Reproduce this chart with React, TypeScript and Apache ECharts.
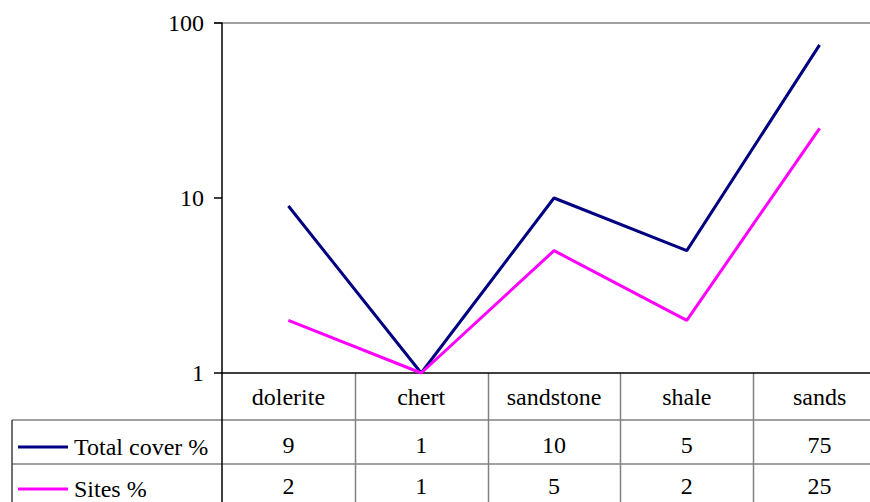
import React, { useEffect, useRef } from "react";
import * as echarts from "echarts";

const categories = ["dolerite", "chert", "sandstone", "shale", "sands"];
const totalCover = [9, 1, 10, 5, 75];
const sites = [2, 1, 5, 2, 25];
const seriesNames = ["Total cover %", "Sites %"];
const yTicks = [1, 10, 100];

const FONT = "Liberation Serif";
const W = 886;
const H = 502;
const GL = 222;
const GR = 0;
const GT = 23;
const GB = 129;

export default function App() {
  const ref = useRef<HTMLDivElement>(null);
  useEffect(() => {
    if (!ref.current) return;
    const chart = echarts.init(ref.current, undefined, { renderer: "svg" });
    const gridW = W - GL - GR;
    const axisY = H - GB;
    const catW = gridW / categories.length;
    const grey = "#808080";
    const graphics: any[] = [];
    graphics.push({ type: "line", shape: { x1: GL - 8, y1: GT, x2: W, y2: GT }, style: { stroke: grey, lineWidth: 1.5 } });
    graphics.push({ type: "line", shape: { x1: 12, y1: 420, x2: W, y2: 420 }, style: { stroke: grey, lineWidth: 1.5 } });
    graphics.push({ type: "line", shape: { x1: 12, y1: 464, x2: W, y2: 464 }, style: { stroke: grey, lineWidth: 1.5 } });
    graphics.push({ type: "line", shape: { x1: 12, y1: 420, x2: 12, y2: H }, style: { stroke: "#404040", lineWidth: 1.5 } });
    graphics.push({ type: "line", shape: { x1: GL, y1: axisY, x2: GL, y2: H }, style: { stroke: "#000", lineWidth: 1.5 } });
    for (let i = 1; i < categories.length; i++) {
      const x = Math.round(GL + catW * i) + 0.5;
      graphics.push({ type: "line", shape: { x1: x, y1: axisY, x2: x, y2: H }, style: { stroke: grey, lineWidth: 1.5 } });
    }
    const colors = ["#000080", "#FF00FF"];
    const rowY = [447, 489];
    seriesNames.forEach((n, i) => {
      graphics.push({ type: "line", shape: { x1: 18, y1: rowY[i], x2: 68, y2: rowY[i] }, style: { stroke: colors[i], lineWidth: 3 } });
      graphics.push({ type: "text", x: 74, y: rowY[i], style: { text: n, fontFamily: FONT, fontSize: 24, fill: "#000", verticalAlign: "middle", align: "left" } });
    });

    const valueAxis = (data: number[], offset: number) => ({
      type: "category",
      data: data.map(String),
      position: "bottom",
      offset,
      axisLine: { show: false },
      axisTick: { show: false },
      axisLabel: { fontFamily: FONT, fontSize: 24, color: "#000", margin: 25, verticalAlign: "middle", interval: 0 },
    });

    chart.setOption({
      animation: false,
      textStyle: { fontFamily: FONT },
      grid: { left: GL, right: GR, top: GT, bottom: GB, containLabel: false },
      xAxis: [
        {
          type: "category",
          data: categories,
          boundaryGap: true,
          axisLine: { show: true, lineStyle: { color: "#000", width: 1.5 } },
          axisTick: { show: false },
          axisLabel: { fontFamily: FONT, fontSize: 24, color: "#000", margin: 24, verticalAlign: "middle", interval: 0 },
        },
        valueAxis(totalCover, 47),
        valueAxis(sites, 88),
      ],
      yAxis: {
        type: "log",
        logBase: 10,
        min: yTicks[0],
        max: yTicks[yTicks.length - 1],
        axisLine: { show: true, lineStyle: { color: "#000", width: 1.5 } },
        axisTick: { show: true, length: 8, lineStyle: { color: "#000", width: 1.5 } },
        minorTick: { show: false },
        splitLine: { show: false },
        axisLabel: { fontFamily: FONT, fontSize: 24, color: "#000", margin: 18 },
      },
      series: [
        { name: seriesNames[0], type: "line", data: totalCover, symbol: "none", lineStyle: { color: colors[0], width: 3 }, itemStyle: { color: colors[0] } },
        { name: seriesNames[1], type: "line", data: sites, symbol: "none", lineStyle: { color: colors[1], width: 3 }, itemStyle: { color: colors[1] } },
      ],
      graphic: graphics,
    });
    return () => chart.dispose();
  }, []);
  return (
    <div style={{ position: "fixed", left: 0, top: 0, width: 870, height: H, overflow: "hidden", background: "#fff" }}>
      <div ref={ref} style={{ width: W, height: H }} />
    </div>
  );
}
